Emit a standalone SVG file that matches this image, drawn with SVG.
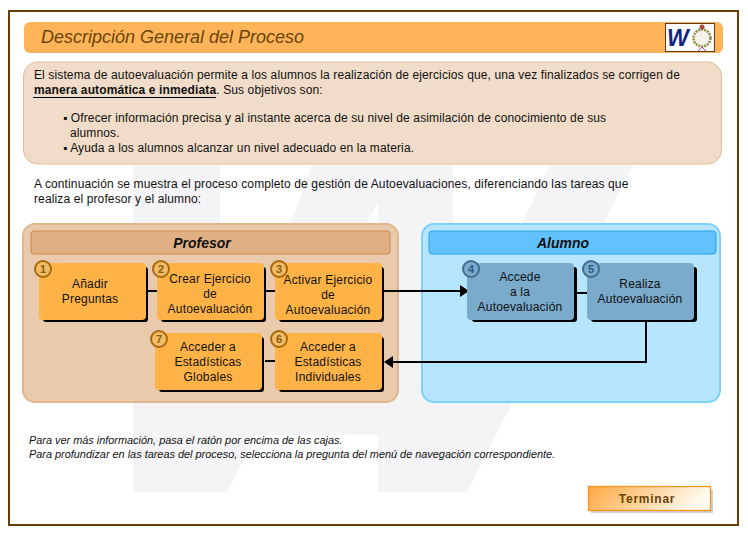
<svg xmlns="http://www.w3.org/2000/svg" width="748" height="536" viewBox="0 0 748 536">
<style>
text{font-family:"Liberation Sans",Arial,sans-serif;font-size:12px;fill:#111;letter-spacing:.12px}
.c{text-anchor:middle;letter-spacing:.2px}
.o{fill:#ffb347}
.b{fill:#7aaacc}
.s{fill:#000}
.n{fill:#f2bc66;stroke:#a8690c;stroke-width:2}
.m{fill:#7aaacc;stroke:#3f6d90;stroke-width:2}
text.nt{font-size:11px;font-weight:bold;text-anchor:middle;fill:#8a5a10;letter-spacing:0}
text.mt{font-size:11px;font-weight:bold;text-anchor:middle;fill:#2f5a80;letter-spacing:0}
.l{stroke:#000;stroke-width:2;fill:none}
text.h{font-size:14px;font-weight:bold;font-style:italic;text-anchor:middle;letter-spacing:0}
text.i{font-size:10.9px;font-style:italic;letter-spacing:0}
</style>
<defs><linearGradient id="g" x1="0" y1="0" x2="1" y2=".2"><stop offset="0" stop-color="#ffa840"/><stop offset="1" stop-color="#fffbf0"/></linearGradient>
<marker id="a" markerWidth="9" markerHeight="12" refX="8" refY="6" orient="auto" markerUnits="userSpaceOnUse"><path d="M0 0L9 6L0 12z" fill="#000"/></marker></defs>
<rect width="748" height="536" fill="#fff"/>
<rect x="9" y="11" width="729" height="514" fill="none" stroke="#663c00" stroke-width="2"/>
<path id="watermark" d="M133 165H633L467 492H378V435H257L227 492H133z" fill="#f4f4f6"/>
<path d="M220 165H312L270 280H220zM378 202L340 275H378zM453 165H550L500 270H453z" fill="#fff"/>
<g id="title"><rect x="24" y="22" width="699" height="31" rx="6" fill="#ffb45a"/><text x="41" y="43" style="font-size:18px;font-style:italic;fill:#6b4506;letter-spacing:0">Descripción General del Proceso</text>
<rect x="665.500" y="23.500" width="49" height="28" fill="#fff" stroke="#5a3a10"/><text x="667" y="46" style="font-size:23px;font-weight:bold;font-style:italic;fill:#15257f;letter-spacing:-1px">W</text><circle cx="702" cy="38" r="8.500" fill="#f4f2ea" stroke="#8a8a40" stroke-width="2.500" stroke-dasharray="2 1"/><circle cx="702" cy="27" r="2.500" fill="#b5483a"/><path d="M698 51L702 47 706 51" fill="none" stroke="#c040a0"/></g>
<g id="intro"><rect x="23.500" y="62" width="698" height="102" rx="14" fill="#f0dcc8" stroke="#e4bd94"/>
<text x="34" y="79">El sistema de autoevaluación permite a los alumnos la realización de ejercicios que, una vez finalizados se corrigen de</text>
<text x="34" y="94"><tspan font-weight="bold">manera automática e inmediata</tspan>. Sus objetivos son:</text>
<path d="M33 97.500H216" stroke="#000"/>
<text x="63" y="122">▪ Ofrecer información precisa y al instante acerca de su nivel de asimilación de conocimiento de sus</text>
<text x="70" y="137">alumnos.</text>
<text x="63" y="152">▪ Ayuda a los alumnos alcanzar un nivel adecuado en la materia.</text></g>
<text x="34" y="188">A continuación se muestra el proceso completo de gestión de Autoevaluaciones, diferenciando las tareas que</text>
<text x="34" y="203">realiza el profesor y el alumno:</text>
<g id="profesor"><rect x="23" y="224" width="375" height="178" rx="12" fill="#eacaac" stroke="#e2b68e" stroke-width="2"/><rect x="31" y="231" width="359" height="23" rx="3" fill="#e0b084" stroke="#cc8a4c"/><text x="202" y="248" class="h">Profesor</text></g>
<g id="alumno"><rect x="422" y="224" width="298" height="178" rx="12" fill="#b5e5ff" stroke="#7fd0fb" stroke-width="2"/><rect x="429" y="231" width="287" height="23" rx="3" fill="#62c2ff" stroke="#2a9ff0"/><text x="563" y="248" class="h">Alumno</text></g>
<g id="connectors">
<path class="l" d="M147 291H158M265 291H276M576 293H588M265 361H276"/>
<path class="l" d="M384 291H468" marker-end="url(#a)"/>
<path class="l" d="M646 321V362H385" marker-end="url(#a)"/>
</g>
<g id="n1"><rect x="43" y="267" width="105" height="55" rx="3" class="s"/><rect x="39" y="263" width="107" height="57" rx="4" class="o"/><circle cx="43" cy="269" r="8" class="n"/><text x="43" y="273" class="nt">1</text><text x="90" y="288" class="c">Añadir</text><text x="90" y="303" class="c">Preguntas</text></g>
<g id="n2"><rect x="161" y="267" width="105" height="55" rx="3" class="s"/><rect x="157" y="263" width="107" height="57" rx="4" class="o"/><circle cx="161" cy="269" r="8" class="n"/><text x="161" y="273" class="nt">2</text><text x="210" y="283" class="c">Crear Ejercicio</text><text x="210" y="298" class="c">de</text><text x="210" y="313" class="c">Autoevaluación</text></g>
<g id="n3"><rect x="279" y="267" width="105" height="55" rx="3" class="s"/><rect x="275" y="263" width="107" height="57" rx="4" class="o"/><circle cx="279" cy="269" r="8" class="n"/><text x="279" y="273" class="nt">3</text><text x="328" y="284" class="c">Activar Ejercicio</text><text x="328" y="299" class="c">de</text><text x="328" y="314" class="c">Autoevaluación</text></g>
<g id="n4"><rect x="472" y="267" width="105" height="55" rx="3" class="s"/><rect x="467" y="263" width="107" height="57" rx="4" class="b"/><circle cx="471" cy="269" r="8" class="m"/><text x="471" y="273" class="mt">4</text><text x="520" y="281" class="c">Accede</text><text x="520" y="296" class="c">a la</text><text x="520" y="311" class="c">Autoevaluación</text></g>
<g id="n5"><rect x="591" y="267" width="106" height="55" rx="3" class="s"/><rect x="587" y="263" width="107" height="57" rx="4" class="b"/><circle cx="591" cy="269" r="8" class="m"/><text x="591" y="273" class="mt">5</text><text x="640" y="288" class="c">Realiza</text><text x="640" y="303" class="c">Autoevaluación</text></g>
<g id="n6"><rect x="279" y="337" width="105" height="55" rx="3" class="s"/><rect x="275" y="333" width="107" height="57" rx="4" class="o"/><circle cx="279" cy="339" r="8" class="n"/><text x="279" y="343" class="nt">6</text><text x="328" y="351" class="c">Acceder a</text><text x="328" y="366" class="c">Estadísticas</text><text x="328" y="381" class="c">Individuales</text></g>
<g id="n7"><rect x="159" y="337" width="105" height="55" rx="3" class="s"/><rect x="155" y="333" width="107" height="57" rx="4" class="o"/><circle cx="159" cy="339" r="8" class="n"/><text x="159" y="343" class="nt">7</text><text x="208" y="351" class="c">Acceder a</text><text x="208" y="366" class="c">Estadísticas</text><text x="208" y="381" class="c">Globales</text></g>
<text x="29" y="444" class="i">Para ver más información, pasa el ratón por encima de las cajas.</text>
<text x="29" y="458" class="i">Para profundizar en las tareas del proceso, selecciona la pregunta del menú de navegación correspondiente.</text>
<g id="terminar"><rect x="591" y="490" width="122" height="23" fill="#d0d0d0"/><rect x="588.500" y="486.500" width="122" height="24" fill="url(#g)" stroke="#f7941d" stroke-width="1.300"/><text x="647" y="503" class="c" style="font-weight:bold;fill:#6b4506;letter-spacing:.75px">Terminar</text></g>
</svg>
